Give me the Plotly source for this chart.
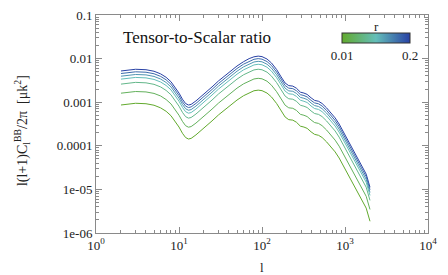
import plotly.graph_objects as go

ell = [2, 3, 4, 5, 6, 7, 8, 9, 10, 11, 12, 13, 14, 16, 18, 20, 25, 30, 40, 50,
       60, 70, 80, 90, 100, 115, 130, 150, 170, 190, 210, 235, 260, 290, 320, 350,
       390, 430, 480, 530, 600, 680, 760, 850, 950, 1050, 1200, 1400, 1600, 1800, 2000]

# curves from top (largest r) to bottom (smallest r)
c0 = [5.20e-3, 5.69e-3, 5.56e-3, 5.13e-3, 4.47e-3, 3.72e-3, 2.95e-3, 2.19e-3, 1.62e-3, 1.17e-3,
      9.33e-4, 8.61e-4, 8.91e-4, 1.07e-3, 1.29e-3, 1.51e-3, 2.24e-3, 3.09e-3, 4.90e-3, 6.76e-3,
      8.51e-3, 1.00e-2, 1.10e-2, 1.14e-2, 1.11e-2, 9.77e-3, 7.94e-3, 5.62e-3, 3.80e-3, 2.75e-3,
      2.40e-3, 2.34e-3, 2.09e-3, 1.70e-3, 1.62e-3, 1.51e-3, 1.26e-3, 1.10e-3, 1.05e-3, 9.33e-4,
      7.41e-4, 5.62e-4, 4.37e-4, 3.16e-4, 2.14e-4, 1.51e-4, 9.55e-5, 5.62e-5, 3.63e-5, 2.24e-5, 1.12e-5]
c1 = [4.55e-3, 4.98e-3, 4.87e-3, 4.49e-3, 3.91e-3, 3.26e-3, 2.58e-3, 1.92e-3, 1.42e-3, 1.02e-3,
      8.16e-4, 7.53e-4, 7.80e-4, 9.36e-4, 1.13e-3, 1.32e-3, 1.96e-3, 2.70e-3, 4.29e-3, 5.92e-3,
      7.45e-3, 8.75e-3, 9.63e-3, 9.98e-3, 9.71e-3, 8.55e-3, 6.95e-3, 4.92e-3, 3.33e-3, 2.41e-3,
      2.10e-3, 2.05e-3, 1.83e-3, 1.49e-3, 1.42e-3, 1.32e-3, 1.10e-3, 9.63e-4, 9.19e-4, 8.16e-4,
      6.48e-4, 4.92e-4, 3.82e-4, 2.77e-4, 1.87e-4, 1.32e-4, 8.36e-5, 4.92e-5, 3.18e-5, 1.96e-5, 9.80e-6]
c2 = [3.95e-3, 4.32e-3, 4.23e-3, 3.90e-3, 3.40e-3, 2.83e-3, 2.24e-3, 1.66e-3, 1.23e-3, 8.89e-4,
      7.09e-4, 6.54e-4, 6.77e-4, 8.13e-4, 9.80e-4, 1.15e-3, 1.70e-3, 2.35e-3, 3.72e-3, 5.14e-3,
      6.47e-3, 7.60e-3, 8.36e-3, 8.66e-3, 8.44e-3, 7.43e-3, 6.03e-3, 4.27e-3, 2.89e-3, 2.09e-3,
      1.82e-3, 1.78e-3, 1.59e-3, 1.29e-3, 1.23e-3, 1.15e-3, 9.58e-4, 8.36e-4, 7.98e-4, 7.09e-4,
      5.63e-4, 4.27e-4, 3.32e-4, 2.40e-4, 1.63e-4, 1.15e-4, 7.26e-5, 4.27e-5, 2.76e-5, 1.70e-5, 8.51e-6]
c3 = [3.38e-3, 3.70e-3, 3.61e-3, 3.33e-3, 2.91e-3, 2.42e-3, 1.92e-3, 1.42e-3, 1.05e-3, 7.61e-4,
      6.06e-4, 5.60e-4, 5.79e-4, 6.96e-4, 8.39e-4, 9.82e-4, 1.46e-3, 2.01e-3, 3.19e-3, 4.39e-3,
      5.53e-3, 6.50e-3, 7.15e-3, 7.41e-3, 7.22e-3, 6.35e-3, 5.16e-3, 3.65e-3, 2.47e-3, 1.79e-3,
      1.56e-3, 1.52e-3, 1.36e-3, 1.11e-3, 1.05e-3, 9.82e-4, 8.19e-4, 7.15e-4, 6.83e-4, 6.06e-4,
      4.82e-4, 3.65e-4, 2.84e-4, 2.05e-4, 1.39e-4, 9.82e-5, 6.21e-5, 3.65e-5, 2.36e-5, 1.46e-5, 7.28e-6]
c4 = [2.60e-3, 2.85e-3, 2.78e-3, 2.57e-3, 2.24e-3, 1.86e-3, 1.48e-3, 1.10e-3, 8.10e-4, 5.85e-4,
      4.67e-4, 4.31e-4, 4.46e-4, 5.35e-4, 6.45e-4, 7.55e-4, 1.12e-3, 1.55e-3, 2.45e-3, 3.38e-3,
      4.26e-3, 5.00e-3, 5.50e-3, 5.70e-3, 5.55e-3, 4.89e-3, 3.97e-3, 2.81e-3, 1.90e-3, 1.38e-3,
      1.20e-3, 1.17e-3, 1.05e-3, 8.50e-4, 8.10e-4, 7.55e-4, 6.30e-4, 5.50e-4, 5.25e-4, 4.67e-4,
      3.71e-4, 2.81e-4, 2.19e-4, 1.58e-4, 1.07e-4, 7.55e-5, 4.78e-5, 2.81e-5, 1.82e-5, 1.12e-5, 5.60e-6]
c5 = [1.61e-3, 1.76e-3, 1.72e-3, 1.59e-3, 1.39e-3, 1.15e-3, 9.15e-4, 6.79e-4, 5.02e-4, 3.63e-4,
      2.89e-4, 2.67e-4, 2.76e-4, 3.32e-4, 4.00e-4, 4.68e-4, 6.94e-4, 9.58e-4, 1.52e-3, 2.10e-3,
      2.64e-3, 3.10e-3, 3.41e-3, 3.53e-3, 3.44e-3, 3.03e-3, 2.46e-3, 1.74e-3, 1.18e-3, 8.53e-4,
      7.44e-4, 7.25e-4, 6.48e-4, 5.27e-4, 5.02e-4, 4.68e-4, 3.91e-4, 3.41e-4, 3.26e-4, 2.89e-4,
      2.30e-4, 1.74e-4, 1.35e-4, 9.80e-5, 6.63e-5, 4.68e-5, 2.96e-5, 1.74e-5, 1.13e-5, 6.94e-6, 3.47e-6]
c6 = [8.63e-4, 9.45e-4, 9.23e-4, 8.52e-4, 7.42e-4, 6.18e-4, 4.90e-4, 3.64e-4, 2.69e-4, 1.94e-4,
      1.55e-4, 1.43e-4, 1.48e-4, 1.78e-4, 2.14e-4, 2.51e-4, 3.72e-4, 5.13e-4, 8.13e-4, 1.12e-3,
      1.41e-3, 1.66e-3, 1.83e-3, 1.89e-3, 1.84e-3, 1.62e-3, 1.32e-3, 9.33e-4, 6.31e-4, 4.57e-4,
      3.98e-4, 3.88e-4, 3.47e-4, 2.82e-4, 2.69e-4, 2.51e-4, 2.09e-4, 1.83e-4, 1.74e-4, 1.55e-4,
      1.23e-4, 9.33e-5, 7.25e-5, 5.25e-5, 3.55e-5, 2.51e-5, 1.59e-5, 9.33e-6, 6.03e-6, 3.72e-6, 1.86e-6]

curves = [c0, c1, c2, c3, c4, c5, c6]
curve_colors = ["rgb(40,65,165)", "rgb(60,107,172)", "rgb(80,148,178)", "rgb(100,190,185)",
                "rgb(99,183,138)", "rgb(99,177,92)", "rgb(98,170,45)"]

x_tickvals = [1, 10, 100, 1000, 10000]
x_ticktext = ["10<sup>0</sup>", "10<sup>1</sup>", "10<sup>2</sup>", "10<sup>3</sup>", "10<sup>4</sup>"]
y_tickvals = [0.1, 0.01, 0.001, 0.0001, 1e-05, 1e-06]
y_ticktext = ["0.1", "0.01", "0.001", "0.0001", "1e-05", "1e-06"]
r_range = [0.01, 0.2]

SERIF = "Liberation Serif, Times New Roman, Times, serif"
colorscale = [[0.0, "rgb(98,170,45)"], [0.5, "rgb(100,190,185)"], [1.0, "rgb(40,65,165)"]]

fig = go.Figure()
for ys, col in zip(curves, curve_colors):
    fig.add_trace(go.Scatter(x=ell, y=ys, mode="lines", line=dict(color=col, width=1),
                             showlegend=False, hoverinfo="skip"))

fig.add_trace(go.Scatter(
    x=[None], y=[None], mode="markers", showlegend=False, hoverinfo="skip",
    marker=dict(color=r_range, cmin=r_range[0], cmax=r_range[1], colorscale=colorscale,
                showscale=True,
                colorbar=dict(orientation="h", x=0.8435, y=0.857, xanchor="center", yanchor="middle",
                              len=68, lenmode="pixels", thickness=10, thicknessmode="pixels",
                              outlinewidth=1, outlinecolor="#333",
                              tickvals=r_range, ticktext=["0.01", "0.2"], ticks="",
                              tickfont=dict(family=SERIF, size=13, color="#222"),
                              xpad=0, ypad=0))))

minor_x = [m * 10 ** d for d in range(0, 4) for m in range(2, 10)]
minor_y = [m * 10.0 ** d for d in range(-6, -1) for m in range(2, 10)]

axis_common = dict(showline=True, linecolor="#8a8a8a", linewidth=1, mirror="ticks",
                   ticks="inside", ticklen=6, tickcolor="#8a8a8a", showgrid=False, zeroline=False,
                   tickfont=dict(family=SERIF, size=13, color="#222"))

fig.update_xaxes(type="log", range=[0, 4], tickvals=x_tickvals, ticktext=x_ticktext,
                 minor=dict(tickvals=minor_x, ticks="inside", ticklen=3, tickcolor="#8a8a8a"),
                 **axis_common)
fig.update_yaxes(type="log", range=[-6, -1], tickvals=y_tickvals, ticktext=y_ticktext,
                 minor=dict(tickvals=minor_y, ticks="inside", ticklen=3, tickcolor="#8a8a8a"),
                 **axis_common)

fig.add_annotation(text="Tensor-to-Scalar ratio", xref="paper", yref="paper", x=0.076, y=0.899,
                   xanchor="left", yanchor="middle", showarrow=False,
                   font=dict(family=SERIF, size=17, color="#111"))
fig.add_annotation(text="r", xref="paper", yref="paper", x=0.8435, y=0.945,
                   xanchor="center", yanchor="middle", showarrow=False,
                   font=dict(family=SERIF, size=13, color="#222"))
fig.add_annotation(text="l(l+1)C<sub>l</sub><sup>BB</sup>/2π  [μk<sup>2</sup>]", xref="paper", yref="paper",
                   x=-0.223, y=0.472, xanchor="center", yanchor="middle", textangle=-90, showarrow=False,
                   font=dict(family=SERIF, size=14, color="#222"))
fig.add_annotation(text="l", xref="paper", yref="paper", x=0.5, y=-0.16,
                   xanchor="center", yanchor="middle", showarrow=False,
                   font=dict(family=SERIF, size=13, color="#222"))

fig.update_layout(width=448, height=275,
                  margin=dict(l=96, r=20, t=15, b=42, autoexpand=False),
                  paper_bgcolor="white", plot_bgcolor="white")

fig.write_html("out.html", config={"displayModeBar": False},
               post_script="document.body.style.margin='0px';")
